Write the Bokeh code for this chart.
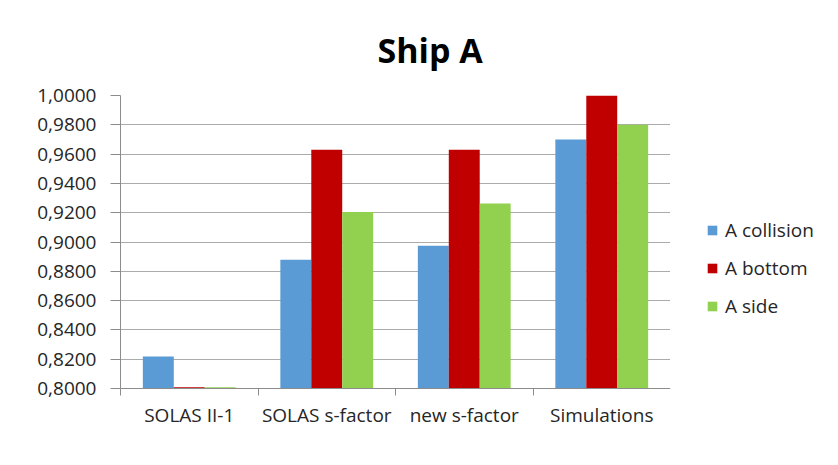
import numpy as np
from bokeh.plotting import figure
from bokeh.layouts import row
from bokeh.models import ColumnDataSource, FixedTicker, Range1d, Legend, LegendItem
from bokeh.embed import file_html
from bokeh.resources import INLINE

# ---- data ----
categories = ["SOLAS II-1", "SOLAS s-factor", "new s-factor", "Simulations"]
series_names = ["A collision", "A bottom", "A side"]
a_collision = [0.8218, 0.8878, 0.8975, 0.9700]
a_bottom = [0.8008, 0.9630, 0.9630, 1.0000]
a_side = [0.8008, 0.9205, 0.9263, 0.9800]
y_ticks = [0.80, 0.82, 0.84, 0.86, 0.88, 0.90, 0.92, 0.94, 0.96, 0.98, 1.00]
y_tick_labels = ["0,8000", "0,8200", "0,8400", "0,8600", "0,8800", "0,9000",
                 "0,9200", "0,9400", "0,9600", "0,9800", "1,0000"]
colors = ["#5B9BD5", "#C00000", "#92D050"]

FONT = "Open Sans"
TXT = "#262626"
GRID = "#ababab"

centers = np.arange(len(categories)) + 0.5
bar_w = 0.225

p = figure(width=670, height=449, output_backend="svg", toolbar_location=None,
           x_range=Range1d(0, len(categories)), y_range=Range1d(0.8, 1.0),
           min_border_left=120, min_border_right=0, min_border_top=95,
           min_border_bottom=61)
p.outline_line_color = None
p.background_fill_color = "white"
p.border_fill_color = "white"

for k, vals in enumerate([a_collision, a_bottom, a_side]):
    src = ColumnDataSource(dict(x=centers + (k - 1) * bar_w, top=vals,
                                bottom=[0.8] * len(vals)))
    p.vbar(x="x", top="top", bottom="bottom", width=bar_w, source=src,
           fill_color=colors[k], line_color=None)

# y axis
p.yaxis.ticker = FixedTicker(ticks=y_ticks, minor_ticks=[])
p.yaxis.major_label_overrides = dict(zip(y_ticks, y_tick_labels))
p.yaxis.axis_line_color = "#8c8c8c"
p.yaxis.major_tick_line_color = "#8c8c8c"
p.yaxis.major_tick_out = 10
p.yaxis.major_tick_in = 0
p.yaxis.minor_tick_line_color = None
p.yaxis.major_label_standoff = 14
p.yaxis.major_label_text_font = FONT
p.yaxis.major_label_text_font_size = "19px"
p.yaxis.major_label_text_color = TXT

# x axis: labels at centres, ticks at boundaries
p.xaxis.ticker = FixedTicker(ticks=list(centers),
                             minor_ticks=list(range(len(categories) + 1)))
p.xaxis.major_label_overrides = dict(zip(list(centers), categories))
p.xaxis.axis_line_color = "#8c8c8c"
p.xaxis.major_tick_line_color = None
p.xaxis.minor_tick_line_color = "#8c8c8c"
p.xaxis.minor_tick_out = 7
p.xaxis.minor_tick_in = 0
p.xaxis.major_label_standoff = 6
p.xaxis.major_label_text_font = FONT
p.xaxis.major_label_text_font_size = "19px"
p.xaxis.major_label_text_color = TXT

p.xgrid.grid_line_color = None
p.ygrid.ticker = FixedTicker(ticks=y_ticks)
p.ygrid.grid_line_color = GRID
p.ygrid.grid_line_width = 1

# title
p.title.text = "Ship A"
p.title.align = "left"
p.title.offset = 257
p.title.text_font = FONT
p.title.text_font_size = "34px"
p.title.text_font_style = "bold"
p.title.text_color = "black"
p.title.standoff = 46

# legend panel (separate figure to the right of the plot area)
lg = figure(width=152, height=449, output_backend="svg", toolbar_location=None,
            min_border=0, x_range=Range1d(0, 1), y_range=Range1d(0, 1))
lg.axis.visible = False
lg.grid.visible = False
lg.outline_line_color = None
lg.border_fill_color = "white"
lg.background_fill_color = "white"
HIDDEN = -10.0  # legend proxies sit outside the legend panel's visible range
items = []
for k, name in enumerate(series_names):
    r = lg.vbar(x=[HIDDEN], top=[HIDDEN], bottom=[HIDDEN - 1], width=0.1,
                fill_color=colors[k], line_color=None)
    items.append(LegendItem(label=name, renderers=[r]))

legend = Legend(items=items, location=(36, 69), glyph_width=12, glyph_height=12,
                label_height=20, spacing=12, padding=0, margin=0,
                label_standoff=7, border_line_color=None,
                background_fill_alpha=0,
                label_text_font=FONT, label_text_font_size="19px",
                label_text_color=TXT)
lg.add_layout(legend)

layout = row(p, lg)
open("out.html", "w").write(file_html(layout, INLINE))
